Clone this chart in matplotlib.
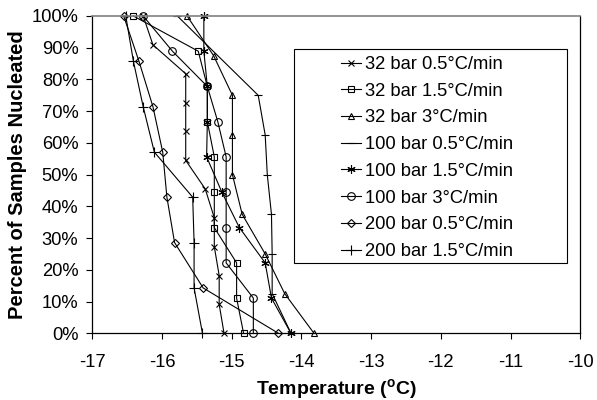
import matplotlib
matplotlib.use("Agg")
import matplotlib.pyplot as plt
from matplotlib.patches import Rectangle
from matplotlib.ticker import PercentFormatter, MultipleLocator

plt.rcParams["font.family"] = ["Liberation Sans", "DejaVu Sans"]
plt.rcParams["axes.unicode_minus"] = False
plt.rcParams["mathtext.fontset"] = "custom"
plt.rcParams["mathtext.bf"] = "Liberation Sans:bold"
plt.rcParams["mathtext.rm"] = "Liberation Sans"

# cumulative nucleation curves, temperature (C) vs percent nucleated
LABELS = [
    "32 bar 0.5\u00b0C/min",
    "32 bar 1.5\u00b0C/min",
    "32 bar 3\u00b0C/min",
    "100 bar 0.5\u00b0C/min",
    "100 bar 1.5\u00b0C/min",
    "100 bar 3\u00b0C/min",
    "200 bar 0.5\u00b0C/min",
    "200 bar 1.5\u00b0C/min",
]

t_32_05 = [-16.27, -16.13, -15.66, -15.66, -15.66, -15.66, -15.38, -15.25, -15.25, -15.18, -15.18, -15.11]
p_32_05 = [100, 90.9, 81.8, 72.7, 63.6, 54.5, 45.5, 36.4, 27.3, 18.2, 9.1, 0]

t_32_15 = [-16.41, -15.48, -15.35, -15.35, -15.25, -15.25, -15.25, -14.93, -14.93, -14.83]
p_32_15 = [100, 88.9, 77.8, 66.7, 55.6, 44.4, 33.3, 22.2, 11.1, 0]

t_32_3 = [-15.64, -15.26, -14.99, -14.99, -14.99, -14.85, -14.52, -14.24, -13.82]
p_32_3 = [100, 87.5, 75, 62.5, 50, 37.5, 25, 12.5, 0]

t_100_05 = [-15.78, -14.62, -14.52, -14.49, -14.43, -14.42, -14.42, -14.15]
p_100_05 = [100, 75, 62.5, 50, 37.5, 25, 12.5, 0]

t_100_15 = [-15.40, -15.40, -15.35, -15.35, -15.36, -15.14, -14.89, -14.52, -14.43, -14.15]
p_100_15 = [100, 88.9, 77.8, 66.7, 55.6, 44.4, 33.3, 22.2, 11.1, 0]

t_100_3 = [-16.27, -15.85, -15.35, -15.20, -15.08, -15.08, -15.08, -15.08, -14.69, -14.69]
p_100_3 = [100, 88.9, 77.8, 66.7, 55.6, 44.4, 33.3, 22.2, 11.1, 0]

t_200_05 = [-16.55, -16.33, -16.13, -15.99, -15.93, -15.82, -15.41, -14.33]
p_200_05 = [100, 85.7, 71.4, 57.1, 42.9, 28.6, 14.3, 0]

t_200_15 = [-16.52, -16.41, -16.27, -16.11, -15.56, -15.54, -15.54, -15.42]
p_200_15 = [100, 85.7, 71.4, 57.1, 42.9, 28.6, 14.3, 0]

SERIES = [
    (t_32_05, p_32_05, "x", 5),
    (t_32_15, p_32_15, "s", 5),
    (t_32_3, p_32_3, "^", 5),
    (t_100_05, p_100_05, "_", 6),
    (t_100_15, p_100_15, (6, 2, 0), 6),
    (t_100_3, p_100_3, "o", 5.5),
    (t_200_05, p_200_05, "D", 4),
    (t_200_15, p_200_15, "+", 7),
]

FS = 13.2

fig = plt.figure(figsize=(5.97, 4.0), dpi=100)
ax = fig.add_axes([92.3 / 597, 1 - 333.3 / 400, 488 / 597, 317.3 / 400])

for (temps, pcts, marker, ms), label in zip(SERIES, LABELS):
    ax.plot(temps, pcts, color="black", linewidth=0.8, marker=marker,
            markersize=ms, markerfacecolor="none", markeredgecolor="black",
            markeredgewidth=0.8, label=label, clip_on=False)

ax.set_xlim(-17, -10)
ax.set_ylim(0, 100)
ax.xaxis.set_major_locator(MultipleLocator(1))
ax.yaxis.set_major_locator(MultipleLocator(10))
ax.yaxis.set_major_formatter(PercentFormatter(decimals=0))
ax.tick_params(direction="out", length=4, width=0.8, labelsize=FS, colors="black")
ax.tick_params(axis="x", pad=11)
ax.tick_params(axis="y", pad=6)

for side in ["left", "bottom", "right"]:
    ax.spines[side].set_color("black")
    ax.spines[side].set_linewidth(0.9)
ax.spines["top"].set_color("#808080")
ax.spines["top"].set_linewidth(1.2)

ax.set_xlabel(r"Temperature ($\mathbf{^o}$C)", fontsize=14, fontweight="bold", labelpad=4)
ax.set_ylabel("Percent of Samples Nucleated", fontsize=14.5, fontweight="bold", labelpad=3)

# legend frame drawn separately, wider than the entries like the original
ax.add_patch(Rectangle(((294.3 - 92.3) / 488, (333.3 - 262.7) / 317.3),
                       (567 - 294.3) / 488, (262.7 - 49.3) / 317.3,
                       transform=ax.transAxes, facecolor="white",
                       edgecolor="black", linewidth=0.8, zorder=3))
leg = ax.legend(loc="upper left", bbox_to_anchor=((341 - 92.3) / 488, (333.3 - 56) / 317.3),
                frameon=False, fontsize=FS, borderpad=0, handlelength=1.1,
                handletextpad=0.2, labelspacing=0.53, borderaxespad=0)
leg.set_zorder(4)

fig.savefig("out.png", dpi=100)
